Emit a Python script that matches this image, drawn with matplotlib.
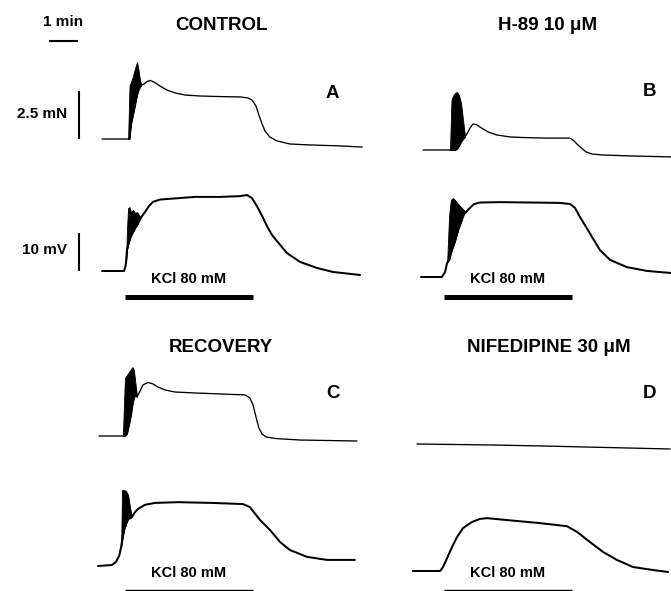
import numpy as np
import matplotlib
matplotlib.use('Agg')
import matplotlib.pyplot as plt
from matplotlib.transforms import blended_transform_factory

plt.rcParams['font.family'] = ['Liberation Sans', 'DejaVu Sans']

# ---------------- data (time in min, force in mN, membrane potential in mV) ----------------
panel_titles = ["CONTROL", "H-89 10 \u03bcM", "RECOVERY", "NIFEDIPINE 30 \u03bcM"]
panel_letters = ["A", "B", "C", "D"]
stim_label = "KCl 80 mM"
kcl_on_off = [0.8, 5.2]            # min
scale_force = 2.5                  # mN
scale_vm = 10.0                    # mV
scale_time = 1.0                   # min

# Panel A (control)
a_f_t = [0, 0.86, 0.90, 0.95, 1.00, 1.07, 1.14, 1.21, 1.26, 1.31, 1.36, 1.45, 1.55, 1.66, 1.79, 2.00, 2.24,
         2.52, 2.86, 3.38, 4.07, 4.76, 5.03, 5.17, 5.31, 5.41, 5.52, 5.62, 5.79, 6.03, 6.48, 7.17, 8.21, 8.97]
a_f_v = [0, 0, 0, 0, 0.73, 1.25, 1.77, 2.29, 2.55, 2.71, 2.81, 2.86, 2.99, 3.05, 2.97, 2.76, 2.55,
         2.40, 2.29, 2.24, 2.21, 2.19, 2.14, 2.03, 1.72, 1.25, 0.78, 0.42, 0.10, -0.10, -0.26, -0.31, -0.36, -0.42]
a_f_bt = [0.90, 0.95, 1.00, 1.07, 1.14, 1.21, 1.26, 1.31, 1.36]
a_f_hi = [0, 2.81, 2.97, 3.28, 3.70, 4.01, 3.59, 3.07, 2.81]
a_f_lo = [0, 0, 0.73, 1.25, 1.77, 2.29, 2.55, 2.71, 2.81]

a_v_t = [0, 0.76, 0.81, 0.83, 0.86, 0.90, 0.95, 1.00, 1.07, 1.14, 1.21, 1.28, 1.33, 1.48, 1.62, 1.76, 2.00,
         2.17, 2.69, 3.21, 4.07, 4.76, 5.00, 5.17, 5.34, 5.52, 5.69, 5.86, 6.03, 6.38, 6.83, 7.41, 7.97, 8.90]
a_v_v = [0, 0, 1.3, 2.4, 5.5, 6.8, 8.2, 9.2, 10.3, 11.3, 12.1, 13.2, 13.9, 15.5, 17.1, 18.2, 18.8,
         18.9, 19.2, 19.5, 19.5, 19.7, 20.0, 19.2, 17.1, 14.5, 11.8, 9.5, 7.9, 4.7, 2.4, 0.8, -0.26, -1.05]
a_v_bt = [0.83, 0.86, 0.90, 0.95, 1.00, 1.07, 1.14, 1.21, 1.28, 1.33]
a_v_hi = [2.4, 10.8, 16.6, 16.8, 15.5, 16.1, 15.3, 15.5, 14.7, 13.9]
a_v_lo = [2.4, 5.5, 6.8, 8.2, 9.2, 10.3, 11.3, 12.1, 13.2, 13.9]

# Panel B (H-89)
b_f_t = [0.07, 0.97, 1.00, 1.05, 1.10, 1.17, 1.24, 1.31, 1.38, 1.45, 1.52, 1.62, 1.69, 1.79, 1.90, 2.03,
         2.31, 2.62, 3.07, 3.52, 4.28, 5.14, 5.28, 5.41, 5.55, 5.69, 5.90, 6.28, 7.21, 8.62]
b_f_v = [0, 0, 0, 0, 0, 0, 0.05, 0.21, 0.42, 0.57, 0.68, 0.94, 1.15, 1.35, 1.33, 1.20,
         0.94, 0.78, 0.68, 0.65, 0.62, 0.62, 0.47, 0.26, 0.08, -0.10, -0.21, -0.26, -0.31, -0.36]
b_f_bt = [1.00, 1.05, 1.10, 1.17, 1.24, 1.31, 1.38, 1.45, 1.52]
b_f_hi = [0, 2.60, 2.81, 2.97, 3.02, 2.86, 2.45, 1.56, 0.68]
b_f_lo = [0, 0, 0, 0, 0.05, 0.21, 0.42, 0.57, 0.68]

b_v_t = [0, 0.72, 0.83, 0.90, 0.97, 1.03, 1.10, 1.17, 1.28, 1.38, 1.48, 1.55, 1.69, 1.83, 2.03, 2.72,
         3.76, 4.79, 5.14, 5.31, 5.48, 5.69, 5.90, 6.17, 6.52, 7.10, 7.79, 8.62]
b_v_v = [0, 0, 1.3, 3.7, 4.5, 6.3, 7.9, 9.4, 12.4, 14.5, 16.6, 17.1, 18.2, 19.2, 19.6, 19.7,
         19.6, 19.5, 19.2, 18.2, 15.8, 13.2, 10.5, 7.1, 4.5, 2.6, 1.6, 1.05]
b_v_bt = [0.90, 0.97, 1.03, 1.10, 1.17, 1.28, 1.38, 1.48, 1.55]
b_v_hi = [3.7, 16.3, 20.3, 20.8, 20.3, 19.2, 18.4, 17.6, 17.1]
b_v_lo = [3.7, 4.5, 6.3, 7.9, 9.4, 12.4, 14.5, 16.6, 17.1]

# Panel C (recovery)
c_f_t = [-0.10, 0.69, 0.72, 0.79, 0.86, 0.93, 1.00, 1.05, 1.10, 1.16, 1.21, 1.31, 1.41, 1.59, 1.76, 1.93,
         2.17, 2.52, 3.21, 4.07, 4.93, 5.10, 5.21, 5.31, 5.41, 5.52, 5.66, 5.97, 6.83, 8.79]
c_f_v = [0, 0, 0, 0, 0.10, 0.57, 1.09, 1.61, 1.98, 2.14, 2.03, 2.34, 2.66, 2.79, 2.71, 2.55,
         2.40, 2.29, 2.24, 2.19, 2.14, 1.98, 1.61, 0.99, 0.42, 0.10, -0.05, -0.13, -0.21, -0.26]
c_f_bt = [0.72, 0.79, 0.86, 0.93, 1.00, 1.05, 1.10, 1.16, 1.21]
c_f_hi = [0, 3.02, 3.18, 3.33, 3.49, 3.59, 3.44, 2.66, 2.03]
c_f_lo = [0, 0, 0.10, 0.57, 1.09, 1.61, 1.98, 2.14, 2.03]

c_v_t = [-0.14, 0.34, 0.48, 0.59, 0.66, 0.69, 0.76, 0.83, 0.90, 0.97, 1.03, 1.14, 1.24, 1.48, 1.83, 2.62,
         3.79, 4.86, 5.10, 5.45, 5.79, 6.14, 6.48, 7.07, 7.76, 8.72]
c_v_v = [0, 0.26, 1.05, 2.63, 5.0, 6.5, 9.5, 11.1, 12.4, 12.6, 12.9, 14.2, 15.0, 16.1, 16.6, 16.8,
         16.6, 16.3, 15.5, 12.1, 9.5, 6.3, 4.2, 2.4, 1.6, 1.6]
c_v_bt = [0.66, 0.69, 0.76, 0.83, 0.90, 0.97, 1.03]
c_v_hi = [5.0, 20.0, 20.0, 19.7, 18.7, 15.3, 12.9]
c_v_lo = [5.0, 6.5, 9.5, 11.1, 12.4, 12.6, 12.9]

# Panel D (nifedipine)
d_f_t = [-0.14, 2.38, 4.10, 8.59]
d_f_v = [0, -0.05, -0.10, -0.26]

d_v_t = [-0.28, 0.66, 0.76, 0.90, 1.07, 1.24, 1.45, 1.76, 2.03, 2.28, 2.97, 4.10, 5.03, 5.38, 5.83,
         6.28, 6.76, 7.31, 8.00, 8.52]
d_v_v = [0, 0, 1.05, 3.4, 6.3, 8.9, 11.3, 12.9, 13.7, 13.9, 13.4, 12.6, 11.8, 10.3, 7.6,
         5.0, 2.9, 1.05, 0.26, -0.26]

# ---------------- layout ----------------
W, H, DPI = 671, 591, 100
fig = plt.figure(figsize=(W / DPI, H / DPI), dpi=DPI)
fig.patch.set_facecolor('white')

PPM = 29.0       # px per minute
F_PPU = 19.2     # px per mN
V_PPU = 3.8      # px per mV
T_LIM = (-0.5, 9.0)
F_LIM = (-1.0, 5.0)
V_LIM = (-8.0, 24.0)


def make_ax(x0, yb, ppu, ylim):
    left = (x0 + T_LIM[0] * PPM) / W
    width = (T_LIM[1] - T_LIM[0]) * PPM / W
    bottom = (H - yb + ylim[0] * ppu) / H
    height = (ylim[1] - ylim[0]) * ppu / H
    ax = fig.add_axes([left, bottom, width, height])
    ax.set_xlim(*T_LIM)
    ax.set_ylim(*ylim)
    ax.axis('off')
    return ax


def trace(ax, t, v, lw, bt=None, lo=None, hi=None):
    ax.plot(t, v, color='black', lw=lw, solid_joinstyle='round', solid_capstyle='round', clip_on=False)
    if bt is not None:
        ax.fill_between(bt, lo, hi, facecolor='black', edgecolor='black', lw=0.6, clip_on=False)


F_LW, V_LW = 0.95, 1.45

# column origins (px of t=0) and baselines (px from top)
axA_f = make_ax(102, 139, F_PPU, F_LIM)
axA_v = make_ax(102, 271, V_PPU, V_LIM)
axB_f = make_ax(421, 150, F_PPU, F_LIM)
axB_v = make_ax(421, 277, V_PPU, V_LIM)
axC_f = make_ax(102, 436, F_PPU, F_LIM)
axC_v = make_ax(102, 566, V_PPU, V_LIM)
axD_f = make_ax(421, 444, F_PPU, F_LIM)
axD_v = make_ax(421, 571, V_PPU, V_LIM)

trace(axA_f, a_f_t, a_f_v, F_LW, a_f_bt, a_f_lo, a_f_hi)
trace(axA_v, a_v_t, a_v_v, V_LW, a_v_bt, a_v_lo, a_v_hi)
trace(axB_f, b_f_t, b_f_v, F_LW, b_f_bt, b_f_lo, b_f_hi)
trace(axB_v, b_v_t, b_v_v, V_LW, b_v_bt, b_v_lo, b_v_hi)
trace(axC_f, c_f_t, c_f_v, F_LW, c_f_bt, c_f_lo, c_f_hi)
trace(axC_v, c_v_t, c_v_v, V_LW, c_v_bt, c_v_lo, c_v_hi)
trace(axD_f, d_f_t, d_f_v, F_LW)
trace(axD_v, d_v_t, d_v_v, V_LW)

# scale bars
bar_t = -0.79
axA_f.plot([bar_t, bar_t], [0.0, scale_force], color='black', lw=1.5, clip_on=False, solid_capstyle='butt')
axA_v.plot([bar_t, bar_t], [0.0, scale_vm], color='black', lw=1.5, clip_on=False, solid_capstyle='butt')
tb = blended_transform_factory(axA_f.transData, fig.transFigure)
axA_f.plot([-1.83, -1.83 + scale_time], [1 - 41 / H, 1 - 41 / H], color='black', lw=1.5,
           transform=tb, clip_on=False, solid_capstyle='butt')

# KCl bars
for ax, ypx, lw in [(axA_v, 297, 3.6), (axB_v, 297, 3.6), (axC_v, 589.6, 1.0), (axD_v, 589.6, 1.0)]:
    tr = blended_transform_factory(ax.transData, fig.transFigure)
    ax.plot(kcl_on_off, [1 - ypx / H] * 2, color='black', lw=lw, transform=tr, clip_on=False,
            solid_capstyle='butt')


def ftext(x, y, s, size, ha='center'):
    fig.text(x / W, 1 - y / H, s, ha=ha, va='center', fontsize=size, fontweight='bold', color='black')


# titles
ftext(221, 25, panel_titles[0], 13.5)
ftext(548, 25, panel_titles[1], 13.5)
ftext(221, 348, panel_titles[2], 13.5)
ftext(549, 348, panel_titles[3], 13.5)
# letters
ftext(332, 94, panel_letters[0], 13.5)
ftext(650, 92, panel_letters[1], 13.5)
ftext(333, 394, panel_letters[2], 13.5)
ftext(649, 394, panel_letters[3], 13.5)
# stimulus labels
for x, y in [(189, 279), (508, 279), (189, 573), (508, 573)]:
    ftext(x, y, stim_label, 10.5)
# scale labels
ftext(63, 22, "1 min", 11)
ftext(67, 114, "2.5 mN", 11, ha='right')
ftext(67, 250, "10 mV", 11, ha='right')

fig.savefig('out.png', dpi=DPI, facecolor='white')
